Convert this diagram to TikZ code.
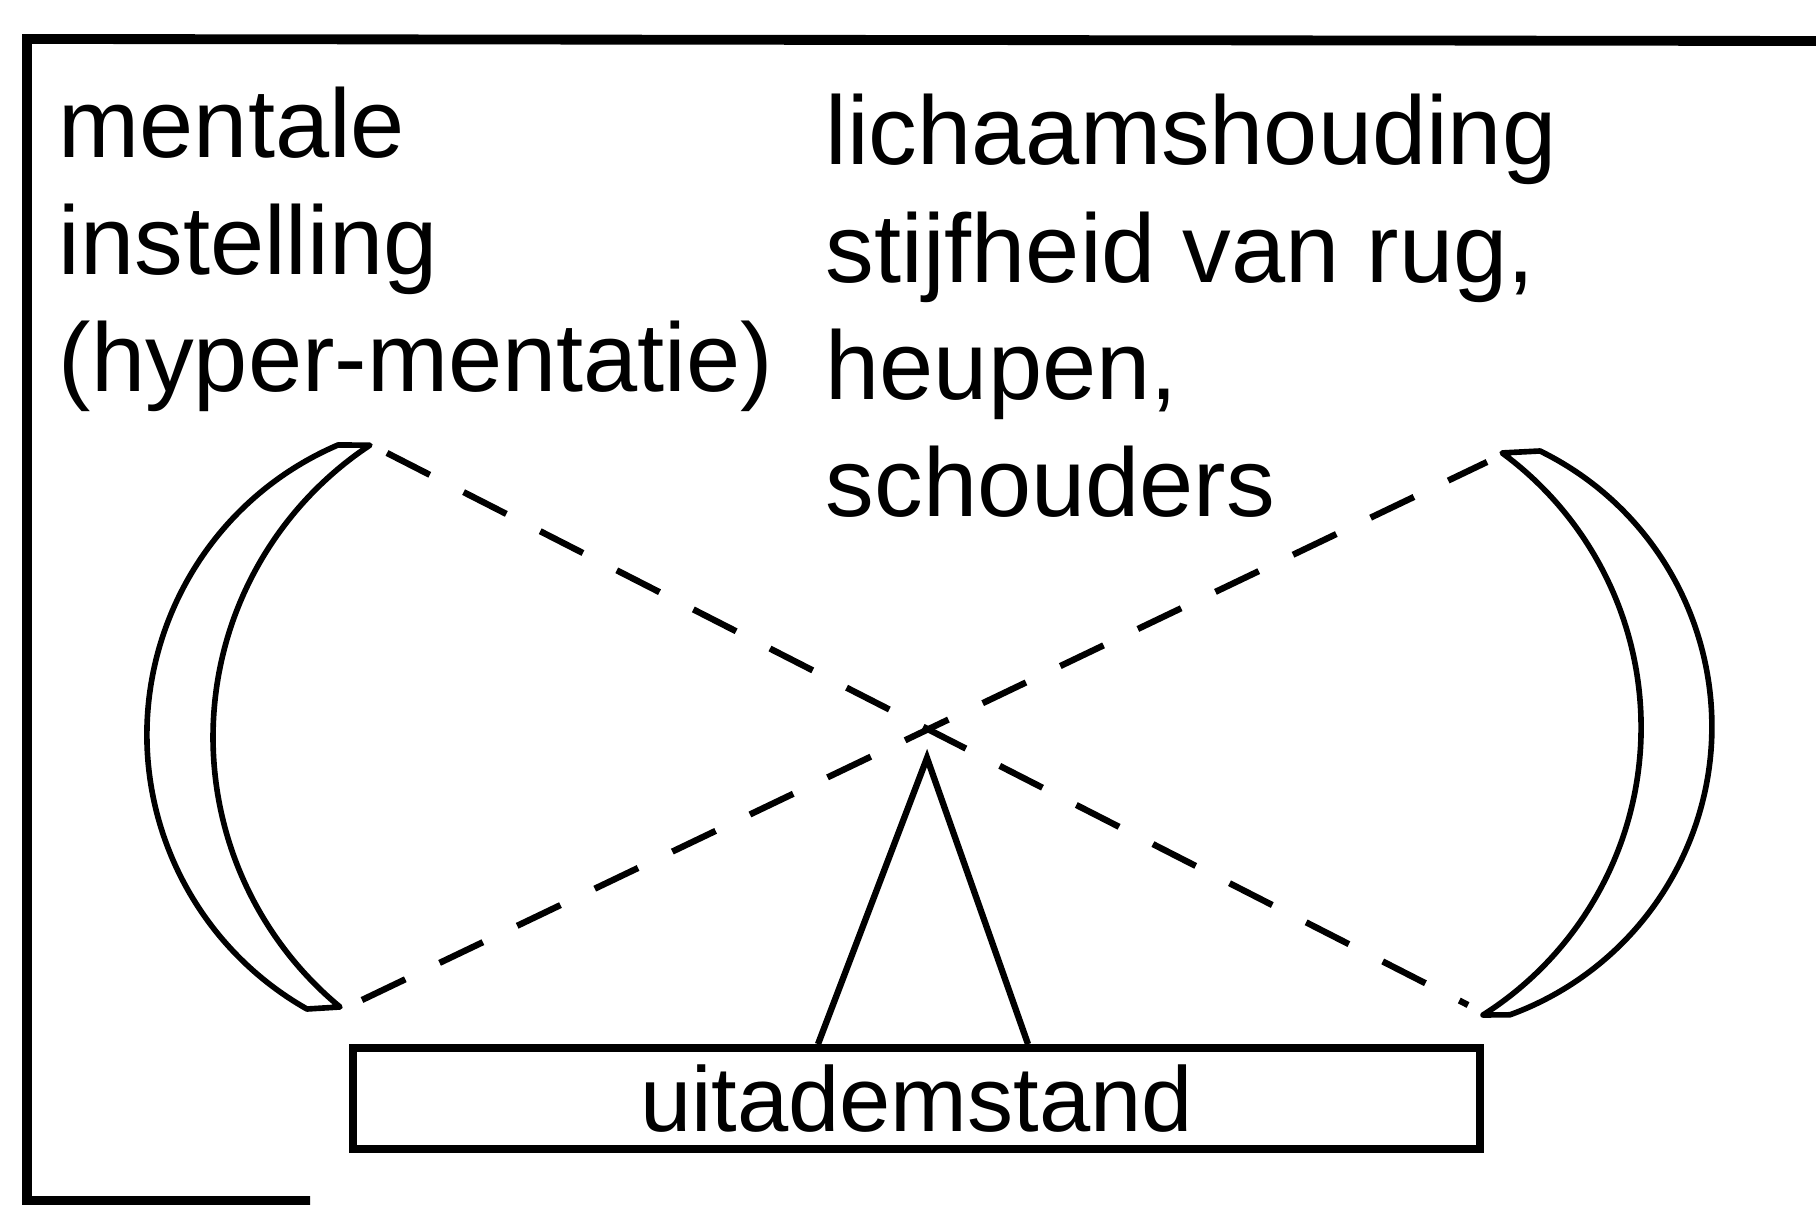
\documentclass[tikz,border=0pt]{standalone}
\usepackage{fontspec}
\setmainfont{Liberation Sans}
\usepackage{tikz}
\usetikzlibrary{positioning,calc}

\begin{document}
\begin{tikzpicture}[y=-1cm,
    txt/.style={inner sep=0pt,anchor=base west,align=left,font=\fontsize{27.7}{33.4}\selectfont},
    moon/.style={line width=1.6pt,line join=round},
    cross/.style={line width=1.8pt,dash pattern=on 0.48cm off 0.38cm}]
    \useasboundingbox (0,0) rectangle (18.16,12.05);
    \draw[line width=2.8pt] (18.16,0.41) -- (0.27,0.39) -- (0.27,12.01) -- (3.10,12.01);

    \node[txt] (mental) at (0.58,3.92) {mentale\\instelling\\(hyper-mentatie)};
    \node[txt] (body) at (8.25,5.17) {lichaamshouding\\stijfheid van rug,\\heupen,\\schouders};
    \node[draw,line width=2.2pt,inner sep=0pt,minimum width=11.27cm,minimum height=1.01cm,
        font=\fontsize{26.2}{30}\selectfont] (stand) at (9.165,10.985) {uitademstand};

    \draw[moon] (3.38,4.45) arc[start angle=246.8,end angle=119.5,radius=3.152]
        -- (3.40,10.07) arc[start angle=129.6,end angle=236.5,radius=3.502] -- cycle;
    \draw[moon] (15.40,4.51) arc[start angle=-63.9,end angle=70.0,radius=3.068]
        -- (14.83,10.15) arc[start angle=57.6,end angle=-53.7,radius=3.406] -- cycle;

    \coordinate (a1) at (3.87,4.53);
    \coordinate (a2) at (14.68,10.05);
    \coordinate (b1) at (3.62,10.00);
    \coordinate (b2) at (14.87,4.62);
    \draw[cross] (a1) -- (a2);
    \draw[cross] (b1) -- (b2);

    \coordinate (apex) at (9.27,7.58);
    \draw[line width=1.8pt] ([xshift=-0.985cm]stand.north) -- (apex) -- ([xshift=1.115cm]stand.north);
\end{tikzpicture}
\end{document}
